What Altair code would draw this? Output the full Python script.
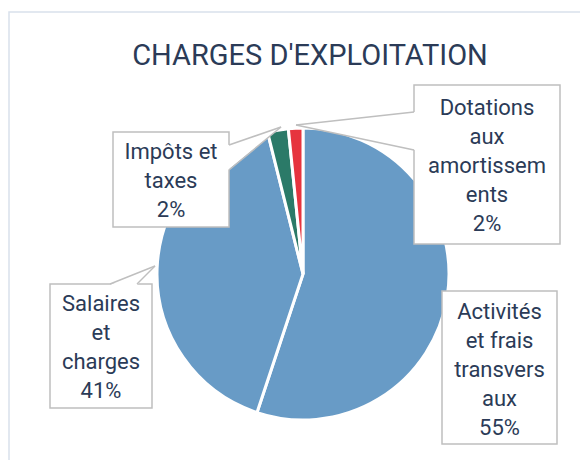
import altair as alt
import pandas as pd

# ---- data ----
categories = ["Activités et frais transversaux", "Salaires et charges",
              "Impôts et taxes", "Dotations aux amortissements"]
values = [55.1, 41.0, 2.3, 1.6]
label_lines = [["Activités", "et frais", "transvers", "aux"],
               ["Salaires", "et", "charges"],
               ["Impôts et", "taxes"],
               ["Dotations", "aux", "amortissem", "ents"]]
colors = ["#689BC6", "#689BC6", "#2B7A68", "#E6343E"]
title_text = "CHARGES D'EXPLOITATION"

# ---- layout (page pixels, shifted by the 8px page margin) ----
M = 8
W, H = 572, 452
CX, CY, R = 303 - M, 274 - M, 146
TEXT = "#2B3B57"
GREY = "#BFBFBF"
FONT = "Roboto"

boxes = {  # x0, y0, x1, y1, first text line centre y
    "Activités et frais transversaux": (442, 291, 557, 444, 312),
    "Salaires et charges": (50, 284, 152, 408, 304),
    "Impôts et taxes": (113, 132, 229, 227, 152),
    "Dotations aux amortissements": (414, 85, 560, 244, 108),
}
LINE_H = 29

pie_df = pd.DataFrame({"cat": categories, "value": values,
                       "idx": list(range(len(categories)))})

box_rows, text_rows = [], []
for c, v, lines in zip(categories, values, label_lines):
    x0, y0, x1, y1, ty = boxes[c]
    box_rows.append({"cat": c, "x0": x0 - M, "y0": y0 - M, "x1": x1 - M, "y1": y1 - M})
    all_lines = lines + [f"{round(v)}%"]
    for i, t in enumerate(all_lines):
        text_rows.append({"cat": c, "t": t, "x": (x0 + x1) / 2 - M,
                          "y": ty + i * LINE_H - M})
box_df = pd.DataFrame(box_rows)
text_df = pd.DataFrame(text_rows)

# callout wedges: base on a box edge, tip at the slice
wedge_v = pd.DataFrame([
    {"w": "imp", "x": 229 - M - 1, "y": 145 - M, "y2": 170 - M},
    {"w": "imp", "x": 281 - M, "y": 127 - M, "y2": 127 - M},
    {"w": "dot", "x": 296 - M, "y": 125 - M, "y2": 125 - M},
    {"w": "dot", "x": 414 - M + 1, "y": 112 - M, "y2": 150 - M},
])
wedge_h = pd.DataFrame([
    {"w": "sal", "y": 266 - M, "x": 155 - M, "x2": 155 - M},
    {"w": "sal", "y": 284 - M + 1, "x": 110 - M, "x2": 137 - M},
])
wedge_lines = pd.DataFrame([
    {"s": "i1", "o": 0, "x": 229 - M, "y": 145 - M}, {"s": "i1", "o": 1, "x": 281 - M, "y": 127 - M},
    {"s": "i2", "o": 0, "x": 229 - M, "y": 170 - M}, {"s": "i2", "o": 1, "x": 281 - M, "y": 127 - M},
    {"s": "d1", "o": 0, "x": 414 - M, "y": 112 - M}, {"s": "d1", "o": 1, "x": 296 - M, "y": 125 - M},
    {"s": "d2", "o": 0, "x": 414 - M, "y": 150 - M}, {"s": "d2", "o": 1, "x": 296 - M, "y": 125 - M},
    {"s": "s1", "o": 0, "x": 110 - M, "y": 284 - M}, {"s": "s1", "o": 1, "x": 155 - M, "y": 266 - M},
    {"s": "s2", "o": 0, "x": 137 - M, "y": 284 - M}, {"s": "s2", "o": 1, "x": 155 - M, "y": 266 - M},
])

border = alt.Chart(pd.DataFrame({"a": [0]})).mark_rect(
    fill="white", stroke="#D9E1EC", strokeWidth=1.5
).encode(x=alt.value(9 - M), x2=alt.value(W + 40), y=alt.value(12 - M), y2=alt.value(H + 40))

title = alt.Chart(pd.DataFrame({"t": [title_text]})).mark_text(
    font=FONT, fontSize=29, color=TEXT,
    align="center", baseline="alphabetic"
).encode(text="t:N", x=alt.value(310 - M), y=alt.value(65 - M))

pie = alt.Chart(pie_df).mark_arc(outerRadius=R, stroke="white", strokeWidth=3).encode(
    theta=alt.Theta("value:Q", stack=True),
    color=alt.Color("cat:N", scale=alt.Scale(domain=categories, range=colors), legend=None),
    order=alt.Order("idx:Q"),
    x=alt.value(CX), y=alt.value(CY),
)

rects = alt.Chart(box_df).mark_rect(fill="white", stroke=GREY, strokeWidth=1.5).encode(
    x=alt.X("x0:Q", scale=None), x2="x1:Q",
    y=alt.Y("y0:Q", scale=None), y2="y1:Q",
)

wv = alt.Chart(wedge_v).mark_area(fill="white", opacity=1).encode(
    x=alt.X("x:Q", scale=None), y=alt.Y("y:Q", scale=None), y2="y2:Q", detail="w:N")
wh = alt.Chart(wedge_h).mark_area(fill="white", opacity=1, orient="horizontal").encode(
    y=alt.Y("y:Q", scale=None), x=alt.X("x:Q", scale=None), x2="x2:Q", detail="w:N")

wl = alt.Chart(wedge_lines).mark_line(color=GREY, strokeWidth=1.5).encode(
    x=alt.X("x:Q", scale=None), y=alt.Y("y:Q", scale=None), detail="s:N", order="o:Q")

texts = alt.Chart(text_df).mark_text(
    font=FONT, fontSize=22, color=TEXT, align="center", baseline="middle"
).encode(x=alt.X("x:Q", scale=None), y=alt.Y("y:Q", scale=None), text="t:N")

chart = alt.layer(border, title, pie, rects, wv, wh, wl, texts).properties(
    width=W, height=H, padding=0, autosize=alt.AutoSizeParams(type="none")
).configure_view(stroke=None)

chart.save("out.html", embed_options={"renderer": "svg", "actions": False})
